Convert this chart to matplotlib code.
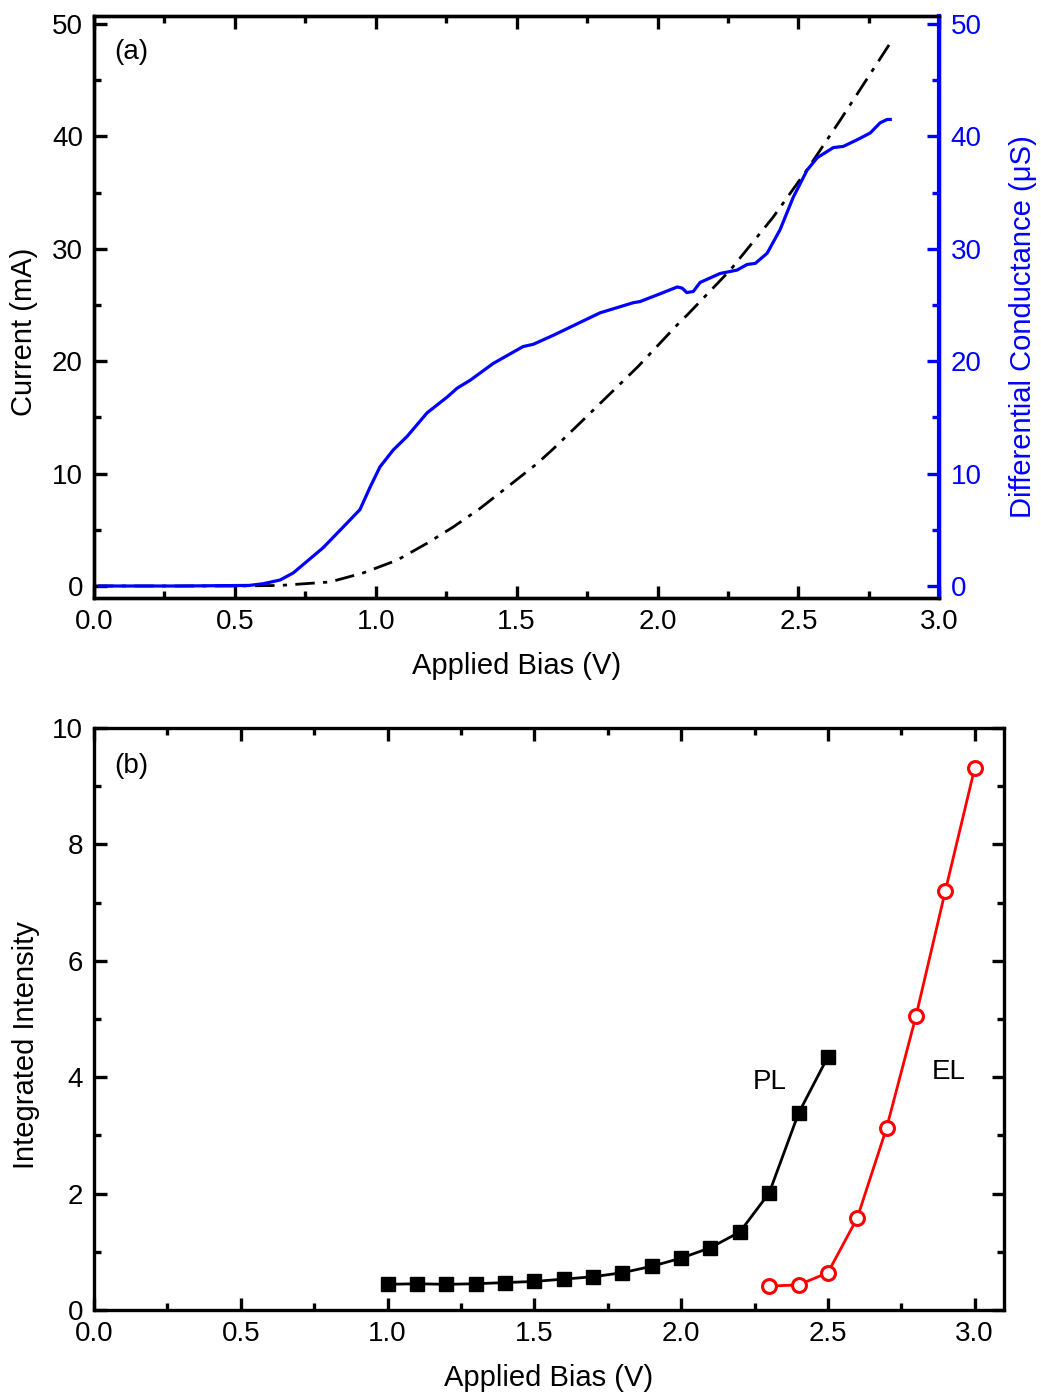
import matplotlib
matplotlib.use('Agg')
import matplotlib.pyplot as plt
from matplotlib.ticker import MultipleLocator

plt.rcParams['font.family'] = ['Liberation Sans', 'DejaVu Sans']

# (a) differential conductance (uS), blue
g_bias = [0.02, 0.3, 0.55, 0.6, 0.66, 0.707, 0.813, 0.898, 0.944, 0.98, 1.015,
          1.062, 1.111, 1.182, 1.253, 1.289, 1.335, 1.417, 1.523, 1.559, 1.63,
          1.796, 1.914, 1.938, 2.02, 2.07, 2.087, 2.104, 2.127, 2.151, 2.222,
          2.282, 2.318, 2.347, 2.389, 2.435, 2.482, 2.531, 2.567, 2.624, 2.659,
          2.709, 2.755, 2.79, 2.815, 2.826]
g_val = [0.0, 0.0, 0.05, 0.2, 0.53, 1.16, 3.4, 5.6, 6.8, 8.8, 10.6,
         12.1, 13.3, 15.4, 16.8, 17.6, 18.3, 19.8, 21.3, 21.5, 22.3,
         24.3, 25.2, 25.3, 26.1, 26.6, 26.5, 26.1, 26.2, 27.0, 27.8,
         28.1, 28.6, 28.7, 29.6, 31.7, 34.6, 37.0, 38.1, 39.0, 39.1,
         39.7, 40.3, 41.2, 41.5, 41.5]

# (a) current (mA), dash-dot black
i_bias = [0.0, 0.5, 0.66, 0.838, 0.955, 1.076, 1.182, 1.275, 1.37, 1.477, 1.573,
          1.63, 1.725, 1.77, 1.93, 2.08, 2.105, 2.258, 2.41, 2.53, 2.65, 2.826]
i_val = [0.0, 0.0, 0.05, 0.36, 1.16, 2.3, 3.8, 5.25, 6.9, 9.0, 10.9,
         12.2, 14.5, 15.6, 19.5, 23.5, 24.1, 28.1, 32.8, 37.0, 41.5, 48.3]

# (b) integrated intensity
pl_bias = [1.0, 1.1, 1.2, 1.3, 1.4, 1.5, 1.6, 1.7, 1.8, 1.9, 2.0, 2.1, 2.2, 2.3, 2.4, 2.5]
pl_val = [0.44, 0.45, 0.44, 0.45, 0.47, 0.49, 0.53, 0.57, 0.64, 0.75, 0.89, 1.07,
          1.34, 2.01, 3.38, 4.35]
el_bias = [2.3, 2.4, 2.5, 2.6, 2.7, 2.8, 2.9, 3.0]
el_val = [0.41, 0.43, 0.64, 1.58, 3.13, 5.05, 7.2, 9.31]

FS = 20
FL = 21
LW_SPINE = 2.4

fig = plt.figure(figsize=(10.41, 13.94), dpi=100)
ax1 = fig.add_axes([0.0903, 0.571, 0.812, 0.4175])
ax2 = fig.add_axes([0.0903, 0.0603, 0.8742, 0.4175])


def style(ax, right=True):
    for s in ax.spines.values():
        s.set_linewidth(LW_SPINE)
    ax.tick_params(which='both', direction='in', top=True, right=right,
                   width=LW_SPINE, labelsize=FS)
    ax.tick_params(which='major', length=9, pad=8)
    ax.tick_params(which='minor', length=5)


# ---- panel (a)
ax1.plot(i_bias, i_val, color='black', lw=2.0, linestyle=(0, (7, 3, 1.5, 3)))
ax1.set_xlim(0, 3.0)
ax1.set_ylim(-1.07, 50.7)
ax1.xaxis.set_major_locator(MultipleLocator(0.5))
ax1.xaxis.set_minor_locator(MultipleLocator(0.25))
ax1.yaxis.set_major_locator(MultipleLocator(10))
ax1.yaxis.set_minor_locator(MultipleLocator(5))
style(ax1, right=False)
ax1.set_xlabel('Applied Bias (V)', fontsize=FL, labelpad=12)
ax1.set_ylabel('Current (mA)', fontsize=FL)
ax1.yaxis.set_label_coords(-0.066, 0.457)
ax1.text(0.131, 47.5, '(a)', fontsize=FS, ha='center', va='center')

ax1r = ax1.twinx()
ax1r.plot(g_bias, g_val, color='blue', lw=2.3)
ax1r.set_ylim(-1.07, 50.7)
ax1r.yaxis.set_major_locator(MultipleLocator(10))
ax1r.yaxis.set_minor_locator(MultipleLocator(5))
for s in ax1r.spines.values():
    s.set_linewidth(LW_SPINE)
ax1r.spines['right'].set_color('blue')
ax1r.spines['right'].set_linewidth(3.0)
ax1r.tick_params(which='both', direction='in', width=LW_SPINE, colors='blue',
                 labelsize=FS)
ax1r.tick_params(which='major', length=9, pad=8)
ax1r.tick_params(which='minor', length=5)
ax1r.set_ylabel('Differential Conductance (\u03bcS)', color='blue', fontsize=FL)
ax1r.yaxis.set_label_coords(1.082, 0.467)

# ---- panel (b)
ax2.plot(pl_bias, pl_val, color='black', lw=2.0, marker='s', markersize=10)
ax2.plot(el_bias, el_val, color='red', lw=2.0, marker='o', markersize=10,
         markerfacecolor='white', markeredgewidth=2.2)
ax2.set_xlim(0, 3.1)
ax2.set_ylim(0, 10)
ax2.xaxis.set_major_locator(MultipleLocator(0.5))
ax2.xaxis.set_minor_locator(MultipleLocator(0.25))
ax2.yaxis.set_major_locator(MultipleLocator(2))
ax2.yaxis.set_minor_locator(MultipleLocator(1))
style(ax2)
ax2.set_xlabel('Applied Bias (V)', fontsize=FL, labelpad=12)
ax2.set_ylabel('Integrated Intensity', fontsize=FL)
ax2.yaxis.set_label_coords(-0.059, 0.455)
ax2.text(0.126, 9.35, '(b)', fontsize=FS, ha='center', va='center')
ax2.text(2.3, 3.92, 'PL', fontsize=FS, ha='center', va='center')
ax2.text(2.91, 4.08, 'EL', fontsize=FS, ha='center', va='center')

fig.savefig('out.png', dpi=100, facecolor='white')
